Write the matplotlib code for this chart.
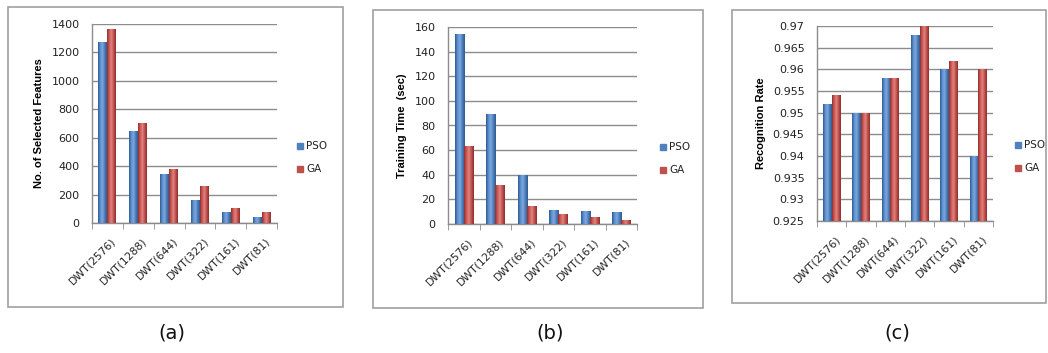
import numpy as np
import matplotlib
matplotlib.use('Agg')
import matplotlib.pyplot as plt
from matplotlib.patches import Rectangle
from matplotlib.colors import LinearSegmentedColormap

W, H = 1048, 353

categories = ['DWT(2576)', 'DWT(1288)', 'DWT(644)', 'DWT(322)', 'DWT(161)', 'DWT(81)']
series_names = ['PSO', 'GA']

features_pso = [1270, 645, 345, 160, 80, 40]
features_ga = [1365, 705, 380, 260, 105, 80]

time_pso = [154, 89, 40, 11, 10.5, 10]
time_ga = [63, 32, 15, 8, 6, 3]

rate_pso = [0.952, 0.950, 0.958, 0.968, 0.960, 0.940]
rate_ga = [0.954, 0.950, 0.958, 0.970, 0.962, 0.960]

rate_ticks = [0.925, 0.93, 0.935, 0.94, 0.945, 0.95, 0.955, 0.96, 0.965, 0.97]
rate_tick_labels = ['0.925', '0.93', '0.935', '0.94', '0.945', '0.95', '0.955', '0.96', '0.965', '0.97']

BLUE = '#4F81BD'
RED = '#C0504D'
GRID = '#8c8c8c'

blue_cmap = LinearSegmentedColormap.from_list('b', ['#2f5a8e', '#5b8fd0', '#7fa8dc', '#4a7cbb', '#2f5a8e'])
red_cmap = LinearSegmentedColormap.from_list('r', ['#8e2f2d', '#cf5956', '#e08481', '#c04f4c', '#8e2f2d'])


def px_rect(x0, y0, x1, y1):
    # pixel box (top-left origin) -> figure fraction rect
    return [x0 / W, 1 - y1 / H, (x1 - x0) / W, (y1 - y0) / H]


fig = plt.figure(figsize=(W / 100, H / 100), dpi=100)
fig.patch.set_facecolor('white')


def gradient_bars(ax, bars, cmap):
    grad = np.linspace(0, 1, 64).reshape(1, -1)
    for b in bars:
        x, y = b.get_x(), b.get_y()
        w, h = b.get_width(), b.get_height()
        im = ax.imshow(grad, cmap=cmap, aspect='auto', extent=[x, x + w, y, y + h],
                       zorder=b.get_zorder() + 0.1, interpolation='bilinear')
        im.set_clip_path(b)


def panel(box, axbox, pso, ga, ylim, yticks, yticklabels, ylabel, legend_xy, caption, cap_x):
    fig.patches.append(Rectangle((box[0] / W, 1 - box[3] / H), (box[2] - box[0]) / W,
                                 (box[3] - box[1]) / H, transform=fig.transFigure,
                                 fill=False, edgecolor='#a0a0a0', linewidth=1.2))
    ax = fig.add_axes(px_rect(*axbox))
    x = np.arange(len(categories))
    bw = 0.29
    base = ylim[0]
    b1 = ax.bar(x - bw / 2, np.array(pso) - base, bw, bottom=base, color=BLUE, zorder=3)
    b2 = ax.bar(x + bw / 2, np.array(ga) - base, bw, bottom=base, color=RED, zorder=3)
    gradient_bars(ax, b1, blue_cmap)
    gradient_bars(ax, b2, red_cmap)
    ax.set_xlim(-0.5, len(categories) - 0.5)
    ax.set_ylim(*ylim)
    ax.set_yticks(yticks)
    ax.set_yticklabels(yticklabels, fontsize=8, color='#222222')
    ax.yaxis.grid(True, color=GRID, linewidth=1.0, zorder=0)
    ax.set_axisbelow(True)
    ax.tick_params(axis='y', length=0, pad=9)
    ax.set_xticks(x + 0.12)
    ax.set_xticklabels(categories, rotation=45, ha='right', va='top',
                       rotation_mode='anchor', fontsize=7.8, color='#222222')
    ax.set_xticks(np.arange(len(categories) + 1) - 0.5, minor=True)
    ax.tick_params(axis='x', which='major', length=0, pad=9)
    ax.tick_params(axis='x', which='minor', length=4, color=GRID, direction='out')
    for s in ['top', 'right']:
        ax.spines[s].set_visible(False)
    for s in ['left', 'bottom']:
        ax.spines[s].set_color(GRID)
        ax.spines[s].set_linewidth(1.0)
    ax.set_ylabel(ylabel, fontsize=8, fontweight='bold', family='Liberation Sans', labelpad=5)
    # legend
    for i, (name, col) in enumerate(zip(series_names, [BLUE, RED])):
        lx, ly = legend_xy[0], legend_xy[1] + i * 23
        fig.patches.append(Rectangle(((lx - 3) / W, 1 - (ly + 3) / H), 6 / W, 6 / H,
                                     transform=fig.transFigure, color=col))
        fig.text((lx + 6) / W, 1 - ly / H, name, fontsize=7.5, va='center', ha='left', color='#222222')
    fig.text(cap_x / W, 1 - 333 / H, caption, fontsize=14, ha='center', va='center', color='#111111')
    return ax


panel((8, 7, 343, 307), (92, 24, 277, 223), features_pso, features_ga,
      (0, 1400), list(range(0, 1401, 200)), [str(v) for v in range(0, 1401, 200)],
      'No. of Selected Features', (300, 146), '(a)', 172)

panel((373, 10, 703, 308), (448, 27, 637, 224), time_pso, time_ga,
      (0, 160), list(range(0, 161, 20)), [str(v) for v in range(0, 161, 20)],
      'Training Time  (sec)', (663, 147), '(b)', 550)

panel((732, 10, 1046, 303), (817, 26, 993, 221), rate_pso, rate_ga,
      (0.925, 0.97), rate_ticks, rate_tick_labels,
      'Recognition Rate', (1018, 145), '(c)', 897)

fig.savefig('out.png', dpi=100)
